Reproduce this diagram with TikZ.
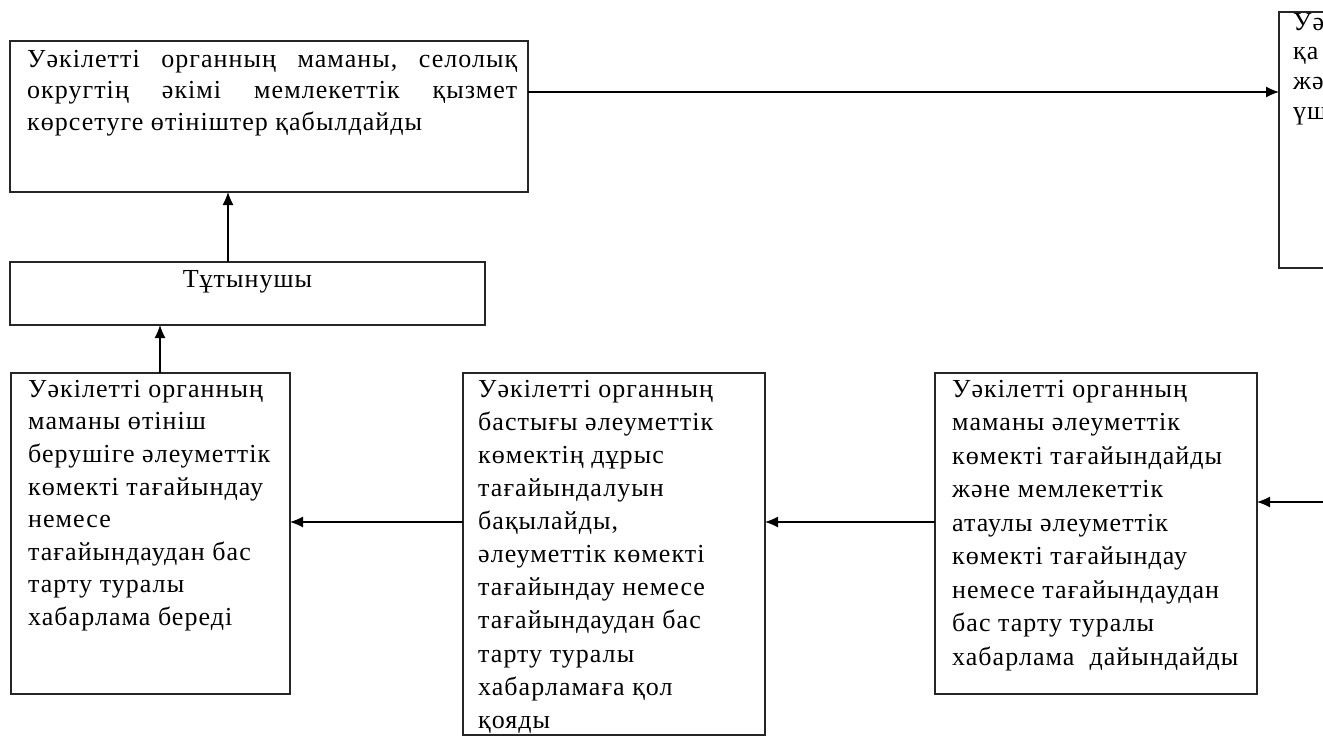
\documentclass[tikz,border=0pt]{standalone}
\usepackage{fontspec}
\setmainfont{Liberation Serif}[LetterSpace=4]
\usetikzlibrary{arrows.meta}
\begin{document}
\begin{tikzpicture}[x=1pt,y=-1pt,
  boxstyle/.style={draw=black!85, line width=1.4pt, inner sep=0pt, outer sep=0pt, anchor=north west},
  txt/.style={anchor=north west, inner sep=0pt, align=left, font=\fontsize{26}{32.6}\selectfont},
  arr/.style={line width=1.2pt, -{Latex[length=13pt,width=11pt]}}]
\useasboundingbox (0,0) rectangle (1323,736);
\clip (0,0) rectangle (1323,736);
\fill[white] (0,0) rectangle (1323,736);

% boxes
\node[boxstyle, minimum width=518pt, minimum height=151pt] (b1) at (10,41) {};
\node[boxstyle, minimum width=140pt, minimum height=256pt] (tr) at (1279,12) {};
\node[boxstyle, minimum width=475pt, minimum height=63pt] (cons) at (10,262) {};
\node[boxstyle, minimum width=279pt, minimum height=321pt] (bl) at (11,373) {};
\node[boxstyle, minimum width=302pt, minimum height=362pt] (mid) at (463,373) {};
\node[boxstyle, minimum width=322pt, minimum height=321pt] (rb) at (935,373) {};

% texts
\node[txt, font=\fontsize{26}{31.5}\selectfont] (b1t) at ([xshift=17pt]b1.north west)
 {\hbox to 490pt{\rule{0pt}{26pt}Уәкілетті\hfill органның\hfill маманы,\hfill селолық}\\
  \hbox to 490pt{округтің\hfill әкімі\hfill мемлекеттік\hfill қызмет}\\
  көрсетуге өтініштер қабылдайды};
\node[txt, font=\fontsize{26}{29.7}\selectfont] (trt) at ([xshift=14pt]tr.north west)
 {\rule{0pt}{18pt}Уә\\қа\\жә\\үш};
\node[txt, anchor=north] (const) at (cons.north) {\rule{0pt}{25pt}Тұтынушы};
\node[txt] (blt) at ([xshift=17pt]bl.north west)
 {\rule{0pt}{24pt}Уәкілетті органның\\
  маманы өтініш\\
  берушіге әлеуметтік\\
  көмекті тағайындау\\
  немесе\\
  тағайындаудан бас\\
  тарту туралы\\
  хабарлама береді};
\node[txt, font=\fontsize{26}{33.1}\selectfont] (midt) at ([xshift=15pt]mid.north west)
 {\rule{0pt}{24pt}Уәкілетті органның\\
  бастығы әлеуметтік\\
  көмектің дұрыс\\
  тағайындалуын\\
  бақылайды,\\
  әлеуметтік көмекті\\
  тағайындау немесе\\
  тағайындаудан бас\\
  тарту туралы\\
  хабарламаға қол\\
  қояды};
\node[txt, font=\fontsize{26}{33.5}\selectfont] (rbt) at ([xshift=17pt]rb.north west)
 {\rule{0pt}{24pt}Уәкілетті органның\\
  маманы әлеуметтік\\
  көмекті тағайындайды\\
  және мемлекеттік\\
  атаулы әлеуметтік\\
  көмекті тағайындау\\
  немесе тағайындаудан\\
  бас тарту туралы\\
  хабарлама\ \ дайындайды};

% connectors
\coordinate (ein) at (1330,502);
\draw[arr] ([yshift=24.5pt]b1.east) -- ([yshift=24.5pt]b1.east -| tr.west);
\draw[arr] ([xshift=-19.5pt]cons.north) -- ([xshift=-19.5pt]cons.north |- b1.south);
\draw[arr] ([xshift=9.5pt]bl.north) -- ([xshift=9.5pt]bl.north |- cons.south);
\draw[arr] ([yshift=11.5pt]bl.east -| mid.west) -- ([yshift=11.5pt]bl.east);
\draw[arr] ([yshift=11.5pt]rb.west) -- ([yshift=11.5pt]rb.west -| mid.east);
\draw[arr] (ein) -- (ein -| rb.east);
\end{tikzpicture}
\end{document}
